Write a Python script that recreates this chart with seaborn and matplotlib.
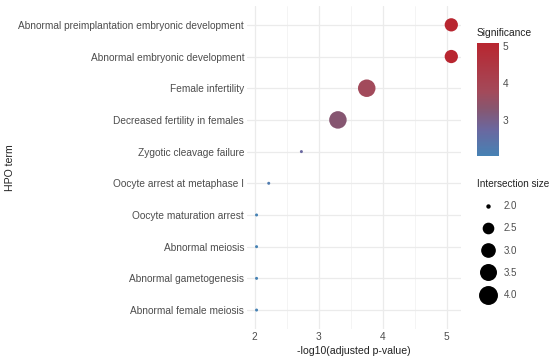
import pandas as pd
import seaborn as sns
import matplotlib.pyplot as plt
from matplotlib.colors import LinearSegmentedColormap, Normalize
from matplotlib.cm import ScalarMappable
from matplotlib.lines import Line2D

terms = [
    'Abnormal preimplantation embryonic development',
    'Abnormal embryonic development',
    'Female infertility',
    'Decreased fertility in females',
    'Zygotic cleavage failure',
    'Oocyte arrest at metaphase I',
    'Oocyte maturation arrest',
    'Abnormal meiosis',
    'Abnormal gametogenesis',
    'Abnormal female meiosis',
]
neg_log_p = [5.07, 5.07, 3.75, 3.30, 2.73, 2.22, 2.03, 2.03, 2.03, 2.03]
intersection = [3, 3, 4, 4, 2, 2, 2, 2, 2, 2]
size_breaks = [2.0, 2.5, 3.0, 3.5, 4.0]

sns.set_style('white')
plt.rcParams['font.family'] = ['Liberation Sans', 'DejaVu Sans']

df = pd.DataFrame({'term': terms, 'x': neg_log_p, 'size': intersection})
# bottom-to-top order so the first term ends up on top
df = df.iloc[::-1].reset_index(drop=True)

cmap = LinearSegmentedColormap.from_list(
    'sig', [(0, '#4682B4'), (0.23, '#6A68A0'), (0.42, '#875670'),
            (0.57, '#A34A5A'), (1, '#B82630')])
norm = Normalize(vmin=min(neg_log_p), vmax=max(neg_log_p))


def marker_area(v):
    # ggplot-like area scale: diameter grows with sqrt of the rescaled value
    d_px = 3 + 14.5 * ((v - 2) / 2) ** 0.5
    return (d_px * 0.72) ** 2


size_map = {v: marker_area(v) for v in sorted(set(intersection))}

fig = plt.figure(figsize=(5.5, 3.64), dpi=100)
ax = fig.add_axes([0.449, 0.096, 0.389, 0.888])

sns.scatterplot(data=df, x='x', y='term', hue='x', palette=cmap, hue_norm=norm,
                size='size', sizes=size_map,
                linewidth=0, legend=False, ax=ax, zorder=3)

ax.set_xlim(1.88, 5.22)
ax.set_ylim(-0.6, len(terms) - 0.4)
ax.set_xticks([2, 3, 4, 5])
ax.set_xticks([2.5, 3.5, 4.5], minor=True)
ax.grid(True, which='major', color='#EBEBEB', linewidth=0.9)
ax.grid(True, which='minor', axis='x', color='#F3F3F3', linewidth=0.6)
ax.set_axisbelow(True)
for s in ax.spines.values():
    s.set_visible(False)
ax.tick_params(axis='both', which='both', length=0, labelsize=7.3, labelcolor='#4D4D4D', pad=2)
ax.set_xlabel('-log10(adjusted p-value)', fontsize=7.6, color='#222222', labelpad=3)
ax.set_ylabel('HPO term', fontsize=7.6, color='#222222')
ax.yaxis.set_label_coords(-1.085, 0.5, transform=ax.transAxes)

# colour bar
cax = fig.add_axes([0.867, 0.571, 0.04, 0.310])
cb = fig.colorbar(ScalarMappable(norm=norm, cmap=cmap), cax=cax)
cb.set_ticks([3, 4, 5])
cb.outline.set_visible(False)
cax.tick_params(length=3, width=0.8, color='white', direction='in', labelsize=7.3, labelcolor='#4D4D4D', pad=3)
fig.text(0.867, 0.895, 'Significance', fontsize=7.4, color='#222222', va='bottom')

# size legend
fig.text(0.867, 0.495, 'Intersection size', fontsize=7.2, color='#222222', va='center')
handles = [Line2D([], [], marker='o', linestyle='', color='black',
                  markersize=marker_area(b) ** 0.5, label=f'{b:.1f}')
           for b in size_breaks]
leg = fig.legend(handles=handles, loc='upper left',
                 bbox_to_anchor=(0.873, 0.447), frameon=False, fontsize=7.0,
                 labelspacing=1.25, handletextpad=0.8,
                 handlelength=1.6, borderaxespad=0, borderpad=0)
for t in leg.get_texts():
    t.set_color('#4D4D4D')

fig.savefig('out.png', dpi=100)
